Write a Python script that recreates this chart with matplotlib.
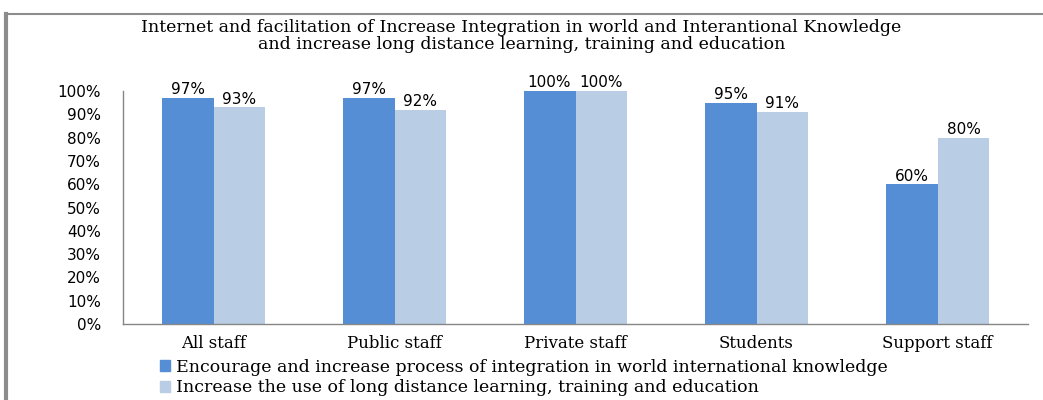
import matplotlib
matplotlib.use('Agg')
import matplotlib.pyplot as plt
from matplotlib.lines import Line2D
from matplotlib.patches import Patch
import numpy as np

# Data
categories = ['All staff', 'Public staff', 'Private staff', 'Students', 'Support staff']
integration = [97, 97, 100, 95, 60]
long_distance = [93, 92, 100, 91, 80]
series_names = ['Encourage and increase process of integration in world international knowledge',
                'Increase the use of long distance learning, training and education']
yticks = list(range(0, 101, 10))

DARK = '#558ED5'
LIGHT = '#B9CDE5'
SERIF = 'DejaVu Serif'

fig = plt.figure(figsize=(10.43, 4.0), dpi=100)
ax = fig.add_axes([123 / 1043, 1 - 324 / 400, 905 / 1043, 233 / 400])

x = np.arange(len(categories))
w = 0.287
b1 = ax.bar(x - w / 2, integration, w, color=DARK)
b2 = ax.bar(x + w / 2, long_distance, w, color=LIGHT)

for bars, vals in ((b1, integration), (b2, long_distance)):
    for rect, v in zip(bars, vals):
        ax.text(rect.get_x() + rect.get_width() / 2, v + 0.3, f'{v}%',
                ha='center', va='bottom', fontsize=11, family='DejaVu Sans')

ax.set_xlim(-0.5, len(categories) - 0.5)
ax.set_ylim(0, 100)
ax.set_yticks(yticks)
ax.set_yticklabels([f'{t}%' for t in yticks], fontsize=11, family='DejaVu Sans')
ax.set_xticks(x)
ax.set_xticklabels(categories, fontsize=12, family=SERIF)
ax.tick_params(axis='both', length=0)
ax.tick_params(axis='y', pad=16)
ax.tick_params(axis='x', pad=8)

for s in ('top', 'right'):
    ax.spines[s].set_visible(False)
for s in ('left', 'bottom'):
    ax.spines[s].set_color('#868686')
    ax.spines[s].set_linewidth(1)

fig.text(0.5, 1 - 36 / 400, 'Internet and facilitation of Increase Integration in world and Interantional Knowledge\n'
         'and increase long distance learning, training and education',
         ha='center', va='center', fontsize=12.5, family=SERIF, linespacing=1.05)

handles = [Patch(color=DARK), Patch(color=LIGHT)]
fig.legend(handles, series_names, loc='upper left', bbox_to_anchor=(160 / 1043, 1 - 359 / 400),
           frameon=False, prop={'family': SERIF, 'size': 12.5},
           handlelength=0.6, handleheight=0.6, handletextpad=0.3, labelspacing=0.2,
           borderaxespad=0, borderpad=0)

# gray frame around the chart area (cut off on the right and bottom)
fig.add_artist(Line2D([6 / 1043, 6 / 1043], [0, 1 - 14 / 400], color='#8c8c8c', lw=3,
                      transform=fig.transFigure))
fig.add_artist(Line2D([6 / 1043, 1], [1 - 14 / 400, 1 - 14 / 400], color='#8c8c8c', lw=1.5,
                      transform=fig.transFigure))

fig.savefig('out.png', dpi=100)
